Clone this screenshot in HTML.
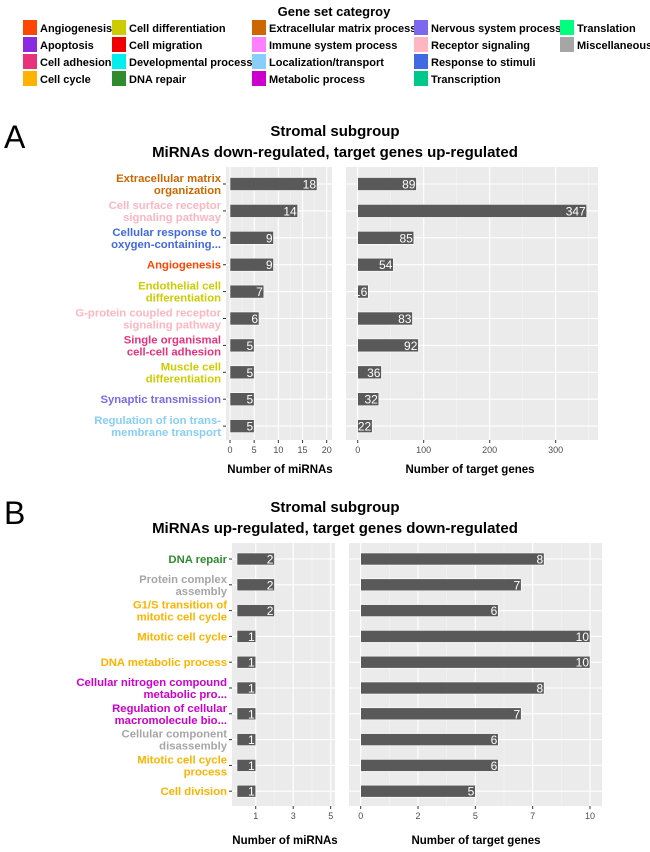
<!DOCTYPE html>
<html><head><meta charset="utf-8"><style>
body{margin:0;background:#fff;}
svg{display:block;font-family:"Liberation Sans",Arial,sans-serif;}
</style></head><body>
<svg id="c" width="650" height="852" viewBox="0 0 650 852"></svg>
<script>
const NS='http://www.w3.org/2000/svg';
const svg=document.getElementById('c');
function el(t,a,p){const e=document.createElementNS(NS,t);for(const k in a)e.setAttribute(k,a[k]);(p||svg).appendChild(e);return e;}

const legendNames=[["Angiogenesis","Apoptosis","Cell adhesion","Cell cycle"],["Cell differentiation","Cell migration","Developmental process","DNA repair"],["Extracellular matrix process","Immune system process","Localization/transport","Metabolic process"],["Nervous system process","Receptor signaling","Response to stimuli","Transcription"],["Translation","Miscellaneous"]];
const legendColors=[["#ff4500","#8a2be2","#e8337a","#ffb300"],["#cccc00","#ee0000","#00eeee","#2e8b2e"],["#cc6600","#ff80ff","#87cefa","#cc00cc"],["#7b68ee","#ffb6c1","#4169e1","#00c78c"],["#00ff7f","#a6a6a6"]];
const legendX=[23,112,252,414,560];
const legendY=[28,45,62,79];

const aCats=[["Extracellular matrix","organization"],["Cell surface receptor","signaling pathway"],["Cellular response to","oxygen-containing..."],["Angiogenesis"],["Endothelial cell","differentiation"],["G-protein coupled receptor","signaling pathway"],["Single organismal","cell-cell adhesion"],["Muscle cell","differentiation"],["Synaptic transmission"],["Regulation of ion trans-","membrane transport"]];
const aColors=["#cc6600","#ffb6c1","#4169e1","#ff4500","#cccc00","#ffb6c1","#e8337a","#cccc00","#7b68ee","#87cefa"];
const aMirna=[18,14,9,9,7,6,5,5,5,5];
const aGenes=[89,347,85,54,16,83,92,36,32,22];
const aTicksL=[0,5,10,15,20];
const aTicksR=[0,100,200,300];

const bCats=[["DNA repair"],["Protein complex","assembly"],["G1/S transition of","mitotic cell cycle"],["Mitotic cell cycle"],["DNA metabolic process"],["Cellular nitrogen compound","metabolic pro..."],["Regulation of cellular","macromolecule bio..."],["Cellular component","disassembly"],["Mitotic cell cycle","process"],["Cell division"]];
const bColors=["#2e8b2e","#a6a6a6","#ffb300","#ffb300","#ffb300","#cc00cc","#cc00cc","#a6a6a6","#ffb300","#ffb300"];
const bMirna=[2,2,2,1,1,1,1,1,1,1];
const bGenes=[8,7,6,10,10,8,7,6,6,5];
const bTicksL=[1,3,5];
const bTicksR=[0,2.5,5,7.5,10];
const bTickLabR=["0","2","5","7","10"];

let t=el('text',{x:334,y:16,'text-anchor':'middle','font-size':13,'font-weight':'bold',fill:'#000'});
t.textContent='Gene set categroy';

legendNames.forEach((col,ci)=>col.forEach((n,ri)=>{
  const g=el('g',{});
  
  
  el('rect',{x:legendX[ci],y:legendY[ri]-8,width:14,height:15,fill:legendColors[ci][ri]},g);
  const tx=el('text',{x:legendX[ci]+17,y:legendY[ri]+4,'font-size':11,'font-weight':'bold',fill:'#000'},g);
  tx.textContent=n;
}));

function panel(o){
  const {x0,x1,y0,y1,dmin,dmax,vals,ticks,tickLabels,minor,title,cats,colors,labels,rowTop,rowStep,barH,name}=o;
  const sx=v=>x0+(v-dmin)/(dmax-dmin)*(x1-x0);
  const g=el('g',{});
  
  
  el('rect',{x:o.px0,y:y0,width:o.px1-o.px0,height:y1-y0,fill:'#ebebeb'},g);
  minor.forEach(v=>el('line',{x1:sx(v),x2:sx(v),y1:y0,y2:y1,stroke:'#f5f5f5','stroke-width':0.6},g));
  ticks.forEach(v=>el('line',{x1:sx(v),x2:sx(v),y1:y0,y2:y1,stroke:'#fff','stroke-width':1.1},g));
  vals.forEach((v,i)=>{const cy=rowTop+i*rowStep;el('line',{x1:o.px0,x2:o.px1,y1:cy,y2:cy,stroke:'#fff','stroke-width':1.1},g);});
  vals.forEach((v,i)=>{
    const cy=rowTop+i*rowStep;
    const b=el('rect',{x:sx(0),y:cy-barH/2,width:sx(v)-sx(0),height:barH,fill:'#595959',stroke:'#fff','stroke-width':0.6},g);
    
    
    const lt=el('text',{x:sx(v)-1,y:cy+4.5,'text-anchor':'end','font-size':12,fill:'#fff'},g);
    lt.textContent=v;
  });
  ticks.forEach((v,i)=>{
    el('line',{x1:sx(v),x2:sx(v),y1:y1,y2:y1+3,stroke:'#333'},g);
    const tt=el('text',{x:sx(v),y:y1+13,'text-anchor':'middle','font-size':9,fill:'#4d4d4d'},g);
    tt.textContent=tickLabels[i];
  });
  const at=el('text',{x:o.titleX,y:o.titleY,'text-anchor':'middle','font-size':11.5,'font-weight':'bold',fill:'#000'},g);
  at.textContent=title;
  
  
  if(labels){
    cats.forEach((c,i)=>{
      const cy=rowTop+i*rowStep;
      el('line',{x1:o.px0-3,x2:o.px0,y1:cy,y2:cy,stroke:'#333'},g);
      const lt=el('text',{'text-anchor':'end','font-size':11.3,'font-weight':'bold',fill:colors[i]},g);
      
      
      const n=c.length;
      c.forEach((s,k)=>{const sp=el('tspan',{x:o.px0-5,y:cy+4-(n-1)*6+k*12},lt);sp.textContent=s;});
    });
  }
}

function header(letter,y,l1,l2){
  let a=el('text',{x:4,y:y+12,'font-size':32,fill:'#000'});a.textContent=letter;
  
  let b=el('text',{x:335,y:y,'text-anchor':'middle','font-size':15,'font-weight':'bold',fill:'#000'});b.textContent=l1;
  
  let c=el('text',{x:335,y:y+21,'text-anchor':'middle','font-size':15,'font-weight':'bold',fill:'#000'});c.textContent=l2;
  
}
header('A',136,'Stromal subgroup','MiRNAs down-regulated, target genes up-regulated');
header('B',512,'Stromal subgroup','MiRNAs up-regulated, target genes down-regulated');

panel({name:'panel-a-mirnas',px0:226,px1:332,x0:230,x1:326.7,y0:167,y1:440,dmin:0,dmax:20,vals:aMirna,ticks:aTicksL,tickLabels:aTicksL.map(String),minor:[2.5,7.5,12.5,17.5],title:'Number of miRNAs',titleX:280,titleY:473,cats:aCats,colors:aColors,labels:true,rowTop:184,rowStep:26.9,barH:13});
panel({name:'panel-a-genes',px0:346,px1:598,x0:357.7,x1:555.7,y0:167,y1:440,dmin:0,dmax:300,vals:aGenes,ticks:aTicksR,tickLabels:aTicksR.map(String),minor:[50,150,250,350],title:'Number of target genes',titleX:470,titleY:473,cats:aCats,colors:aColors,labels:false,rowTop:184,rowStep:26.9,barH:13});
panel({name:'panel-b-mirnas',px0:232,px1:335,x0:237,x1:330.7,y0:543,y1:806,dmin:0,dmax:5,vals:bMirna,ticks:bTicksL,tickLabels:bTicksL.map(String),minor:[2,4],title:'Number of miRNAs',titleX:285,titleY:844,cats:bCats,colors:bColors,labels:true,rowTop:559,rowStep:25.8,barH:12});
panel({name:'panel-b-genes',px0:349,px1:602,x0:360.7,x1:590,y0:543,y1:806,dmin:0,dmax:10,vals:bGenes,ticks:bTicksR,tickLabels:bTickLabR,minor:[1.25,3.75,6.25,8.75],title:'Number of target genes',titleX:476,titleY:844,cats:bCats,colors:bColors,labels:false,rowTop:559,rowStep:25.8,barH:12});
</script>
</body></html>
